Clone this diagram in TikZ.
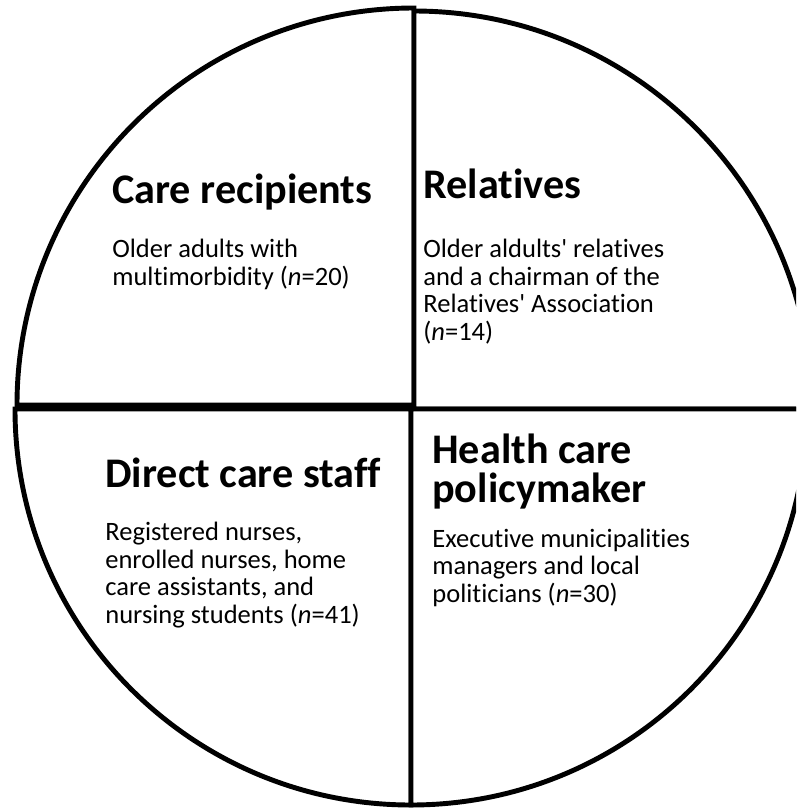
\documentclass[tikz,border=0pt]{standalone}
\usepackage{fontspec}
\setmainfont{Carlito}[Ligatures={NoCommon}]
\usetikzlibrary{positioning}

\tikzset{
  sector/.style={draw=black, line width=2.8pt, fill=white},
  headline/.style={anchor=base west, align=left, inner sep=0pt,
    font=\bfseries\fontsize{24}{22.1}\selectfont},
  blurb/.style={anchor=base west, align=left, inner sep=0pt,
    font=\fontsize{15.1}{15.6}\selectfont}
}

\begin{document}
\begin{tikzpicture}[x=0.02cm, y=-0.02cm]

\useasboundingbox (0,0) rectangle (796,809);
\clip (0,0) rectangle (796,809);

% four quarters
\draw[sector] (414,405) -- (17,405)
    arc[start angle=180, end angle=270, radius=397] -- cycle;
\draw[sector] (414,409) -- (414,11)
    arc[start angle=270, end angle=360, radius=398] -- cycle;
\draw[sector] (411,409) -- (15,409)
    arc[start angle=180, end angle=90, radius=396] -- cycle;
\draw[sector] (411,409) -- (807,409)
    arc[start angle=0, end angle=90, radius=396] -- cycle;

% top left (base = last line)
\node[headline] (recip) at (112,203) {Care recipients};
\node[blurb] (recipTxt) at (112,285)
    {Older adults with\\multimorbidity (\textit{n}=20)};

% top right
\node[headline] (relat) at (423,198) {Relatives};
\node[blurb] (relatTxt) at (423,340)
    {Older aldults\textquotesingle{} relatives\\and a chairman of the\\Relatives\textquotesingle{} Association\\(\textit{n}=14)};

% bottom left
\node[headline] (staff) at (105,487) {Direct care staff};
\node[blurb] (staffTxt) at (105,623)
    {Registered nurses,\\enrolled nurses, home\\care assistants, and\\nursing students (\textit{n}=41)};

% bottom right
\node[headline] (policy) at (432,502) {Health care\\policymaker};
\node[blurb] (policyTxt) at (432,602)
    {Executive municipalities\\managers and local\\politicians (\textit{n}=30)};

\end{tikzpicture}
\end{document}
